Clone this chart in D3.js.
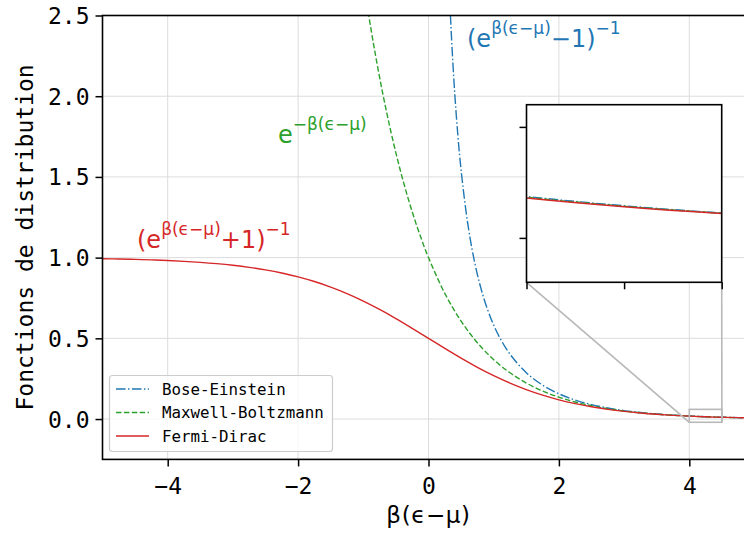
<!DOCTYPE html>
<html><head><meta charset="utf-8">
<script src="https://cdn.jsdelivr.net/npm/d3@7"></script>
<style>body{margin:0;background:#fff}svg{display:block}</style>
</head><body>
<script>
// ---- data (x = β(ϵ−μ)) ----
const fdX = [-5,-4.75,-4.5,-4.25,-4,-3.75,-3.5,-3.25,-3,-2.75,-2.5,-2.25,-2,-1.75,-1.5,-1.25,-1,-0.75,-0.5,-0.25,0,0.25,0.5,0.75,1,1.25,1.5,1.75,2,2.25,2.5,2.75,3,3.25,3.5,3.75,4,4.25,4.5,4.75,5];
const fdY = [0.99331,0.99142,0.98901,0.98594,0.98201,0.97702,0.97069,0.96267,0.95257,0.93991,0.92414,0.90465,0.88080,0.85195,0.81757,0.77730,0.73106,0.67918,0.62246,0.56218,0.5,0.43782,0.37754,0.32082,0.26894,0.22270,0.18243,0.14805,0.11920,0.09535,0.07586,0.06009,0.04743,0.03733,0.02931,0.02298,0.01799,0.01406,0.01099,0.00858,0.00669];
const mbX = [-1,-0.9,-0.8,-0.7,-0.6,-0.5,-0.4,-0.3,-0.2,-0.1,0,0.25,0.5,0.75,1,1.25,1.5,1.75,2,2.25,2.5,2.75,3,3.25,3.5,3.75,4,4.25,4.5,4.75,5];
const mbY = [2.71828,2.45960,2.22554,2.01375,1.82212,1.64872,1.49182,1.34986,1.22140,1.10517,1,0.77880,0.60653,0.47237,0.36788,0.28650,0.22313,0.17377,0.13534,0.10540,0.08208,0.06393,0.04979,0.03877,0.03020,0.02352,0.01832,0.01426,0.01111,0.00865,0.00674];
const beX = [0.28,0.3,0.35,0.4,0.45,0.5,0.6,0.7,0.8,0.9,1,1.1,1.25,1.5,1.75,2,2.25,2.5,2.75,3,3.25,3.5,3.75,4,4.25,4.5,4.75,5];
const beY = [3.0947,2.8583,2.3862,2.0332,1.7596,1.5415,1.2164,0.98644,0.81597,0.68512,0.58198,0.49896,0.40155,0.28722,0.21032,0.15652,0.11782,0.08943,0.06829,0.05240,0.04034,0.03114,0.02408,0.01866,0.01447,0.01123,0.00873,0.00678];
const xTicks = [-4,-2,0,2,4];
const yTicks = [0,0.5,1,1.5,2,2.5];
const insetXTicks = [4,4.25,4.5];
const insetYTicks = [0,0.05];
const seriesNames = ["Bose-Einstein","Maxwell-Boltzmann","Fermi-Dirac"];
const xDomain = [-5,5], yDomain = [-0.25,2.5];
const insetXDomain = [4,4.5], insetYDomain = [-0.02,0.06];

const colors = {be:"#1f77b4", mb:"#2ca02c", fd:"#d62728"};
const series = [
  {key:"be", name:seriesNames[0], xs:beX, ys:beY, dash:"9.6,2.4,1.5,2.4"},
  {key:"mb", name:seriesNames[1], xs:mbX, ys:mbY, dash:"5.5,2.4"},
  {key:"fd", name:seriesNames[2], xs:fdX, ys:fdY, dash:null}
];

const W=744,H=536;
const svg = d3.select("body").append("svg").attr("width",W).attr("height",H);
const L=102.5,R=754.5,T=15.5,B=459.4;
const x = d3.scaleLinear(xDomain,[L,R]);
const y = d3.scaleLinear(yDomain,[B,T]);
const mono = "'DejaVu Sans Mono', monospace";
const sans = "'DejaVu Sans', sans-serif";

const defs = svg.append("defs");
defs.append("clipPath").attr("id","mainclip").append("rect").attr("x",L).attr("y",T).attr("width",R-L).attr("height",B-T);

// grid
const grid = svg.append("g").attr("stroke","#dcdcdc").attr("stroke-width",1);
xTicks.forEach(t=>grid.append("line").attr("x1",x(t)).attr("x2",x(t)).attr("y1",T).attr("y2",B));
yTicks.forEach(t=>grid.append("line").attr("x1",L).attr("x2",R).attr("y1",y(t)).attr("y2",y(t)));

// curves
const plot = svg.append("g").attr("clip-path","url(#mainclip)");
function lineFor(sx,sy){return d3.line().x(d=>sx(d[0])).y(d=>sy(d[1])).curve(d3.curveCatmullRom.alpha(0.5));}
series.forEach(s=>{
  const pts = s.xs.map((v,i)=>[v,s.ys[i]]);
  plot.append("path").attr("d",lineFor(x,y)(pts)).attr("fill","none")
    .attr("stroke",colors[s.key]).attr("stroke-width",1.4)
    .attr("stroke-dasharray",s.dash);
});

// axes
const xAxis = d3.axisBottom(x).tickValues(xTicks).tickSize(7).tickPadding(5)
  .tickFormat(d=>d3.format("d")(d).replace("-","\u2212"));
const gx = svg.append("g").attr("transform",`translate(0,${B})`).call(xAxis);
const yAxis = d3.axisLeft(y).tickValues(yTicks).tickSize(7).tickPadding(5)
  .tickFormat(d3.format(".1f"));
const gy = svg.append("g").attr("transform",`translate(${L},0)`).call(yAxis);
[gx,gy].forEach(g=>{
  g.select(".domain").remove();
  g.selectAll(".tick line").attr("stroke","#000").attr("stroke-width",1.5);
  g.selectAll(".tick text").attr("font-family",mono).attr("font-size",23).attr("fill","#000");
});
gx.selectAll(".tick text").attr("dy",null).attr("y",34.3);
gy.selectAll(".tick text").attr("dy","0.35em").attr("x",-13);

// spines
svg.append("rect").attr("x",L).attr("y",T).attr("width",R-L).attr("height",B-T)
  .attr("fill","none").attr("stroke","#000").attr("stroke-width",1.6);

// axis labels
svg.append("text").attr("transform",`translate(33,${(T+B)/2}) rotate(-90)`)
  .attr("text-anchor","middle").attr("font-family",mono).attr("font-size",23)
  .text("Fonctions de distribution");
svg.append("text").attr("x",(L+R)/2 ).attr("y",523).attr("text-anchor","middle")
  .attr("font-family",sans).attr("font-size",23).attr("letter-spacing",0.6)
  .text("β(ϵ−μ)");

// annotations
function annot(px,py,color,parts){
  const t = svg.append("text").attr("x",px).attr("y",py).attr("font-family",sans).attr("fill",color);
  let level=0;
  parts.forEach(p=>{
    const lv = p.sup?-13:0;
    t.append("tspan").attr("dy",lv-level).attr("font-size",p.sup?17:24).text(p.t);
    level = lv;
  });
}
annot(467,47,colors.be,[{t:"(e"},{t:"β(ϵ−μ)",sup:true},{t:"−1)"},{t:"−1",sup:true}]);
annot(278,143,colors.mb,[{t:"e"},{t:"−β(ϵ−μ)",sup:true}]);
annot(137,248,colors.fd,[{t:"(e"},{t:"β(ϵ−μ)",sup:true},{t:"+1)"},{t:"−1",sup:true}]);

// legend
const lg = svg.append("g");
lg.append("rect").attr("x",109.5).attr("y",375.5).attr("width",223).attr("height",76).attr("rx",3)
  .attr("fill","#fff").attr("fill-opacity",0.8).attr("stroke","#cccccc").attr("stroke-width",1.2);
const rowY = [389,412.5,436];
series.forEach((s,i)=>{
  lg.append("line").attr("x1",116).attr("x2",149).attr("y1",rowY[i]).attr("y2",rowY[i])
    .attr("stroke",colors[s.key]).attr("stroke-width",1.4).attr("stroke-dasharray",s.dash);
  lg.append("text").attr("x",162).attr("y",rowY[i]+5.5).attr("font-family",mono).attr("font-size",15.8)
    .text(s.name);
});

// inset zoom
const IL=526.5, IR=721.7, IT=104.7, IB=282.3;
const xi = d3.scaleLinear(insetXDomain,[IL,IR]);
const yi = d3.scaleLinear(insetYDomain,[IB,IT]);
const mk = svg.append("g").attr("stroke","#b8b8b8").attr("stroke-width",1.6).attr("fill","none");
mk.append("rect").attr("x",x(insetXDomain[0])).attr("y",y(insetYDomain[1]))
  .attr("width",x(insetXDomain[1])-x(insetXDomain[0])).attr("height",y(insetYDomain[0])-y(insetYDomain[1]));
mk.append("line").attr("x1",IL).attr("y1",IB).attr("x2",x(insetXDomain[0])).attr("y2",y(insetYDomain[0]));
mk.append("line").attr("x1",IR).attr("y1",IB).attr("x2",x(insetXDomain[1])).attr("y2",y(insetYDomain[0]));

defs.append("clipPath").attr("id","insclip").append("rect").attr("x",IL).attr("y",IT).attr("width",IR-IL).attr("height",IB-IT);
svg.append("rect").attr("x",IL).attr("y",IT).attr("width",IR-IL).attr("height",IB-IT).attr("fill","#fff");
const ip = svg.append("g").attr("clip-path","url(#insclip)");
series.forEach(s=>{
  const pts = s.xs.map((v,i)=>[v,s.ys[i]]);
  ip.append("path").attr("d",lineFor(xi,yi)(pts)).attr("fill","none")
    .attr("stroke",colors[s.key]).attr("stroke-width",1.4).attr("stroke-dasharray",s.dash);
});
const ixa = svg.append("g").attr("transform",`translate(0,${IB})`)
  .call(d3.axisBottom(xi).tickValues(insetXTicks).tickSize(7).tickFormat(""));
const iya = svg.append("g").attr("transform",`translate(${IL},0)`)
  .call(d3.axisLeft(yi).tickValues(insetYTicks).tickSize(7).tickFormat(""));
[ixa,iya].forEach(g=>{g.select(".domain").remove();g.selectAll(".tick line").attr("stroke","#000").attr("stroke-width",1.5);});
svg.append("rect").attr("x",IL).attr("y",IT).attr("width",IR-IL).attr("height",IB-IT)
  .attr("fill","none").attr("stroke","#000").attr("stroke-width",1.6);
</script>
</body></html>
